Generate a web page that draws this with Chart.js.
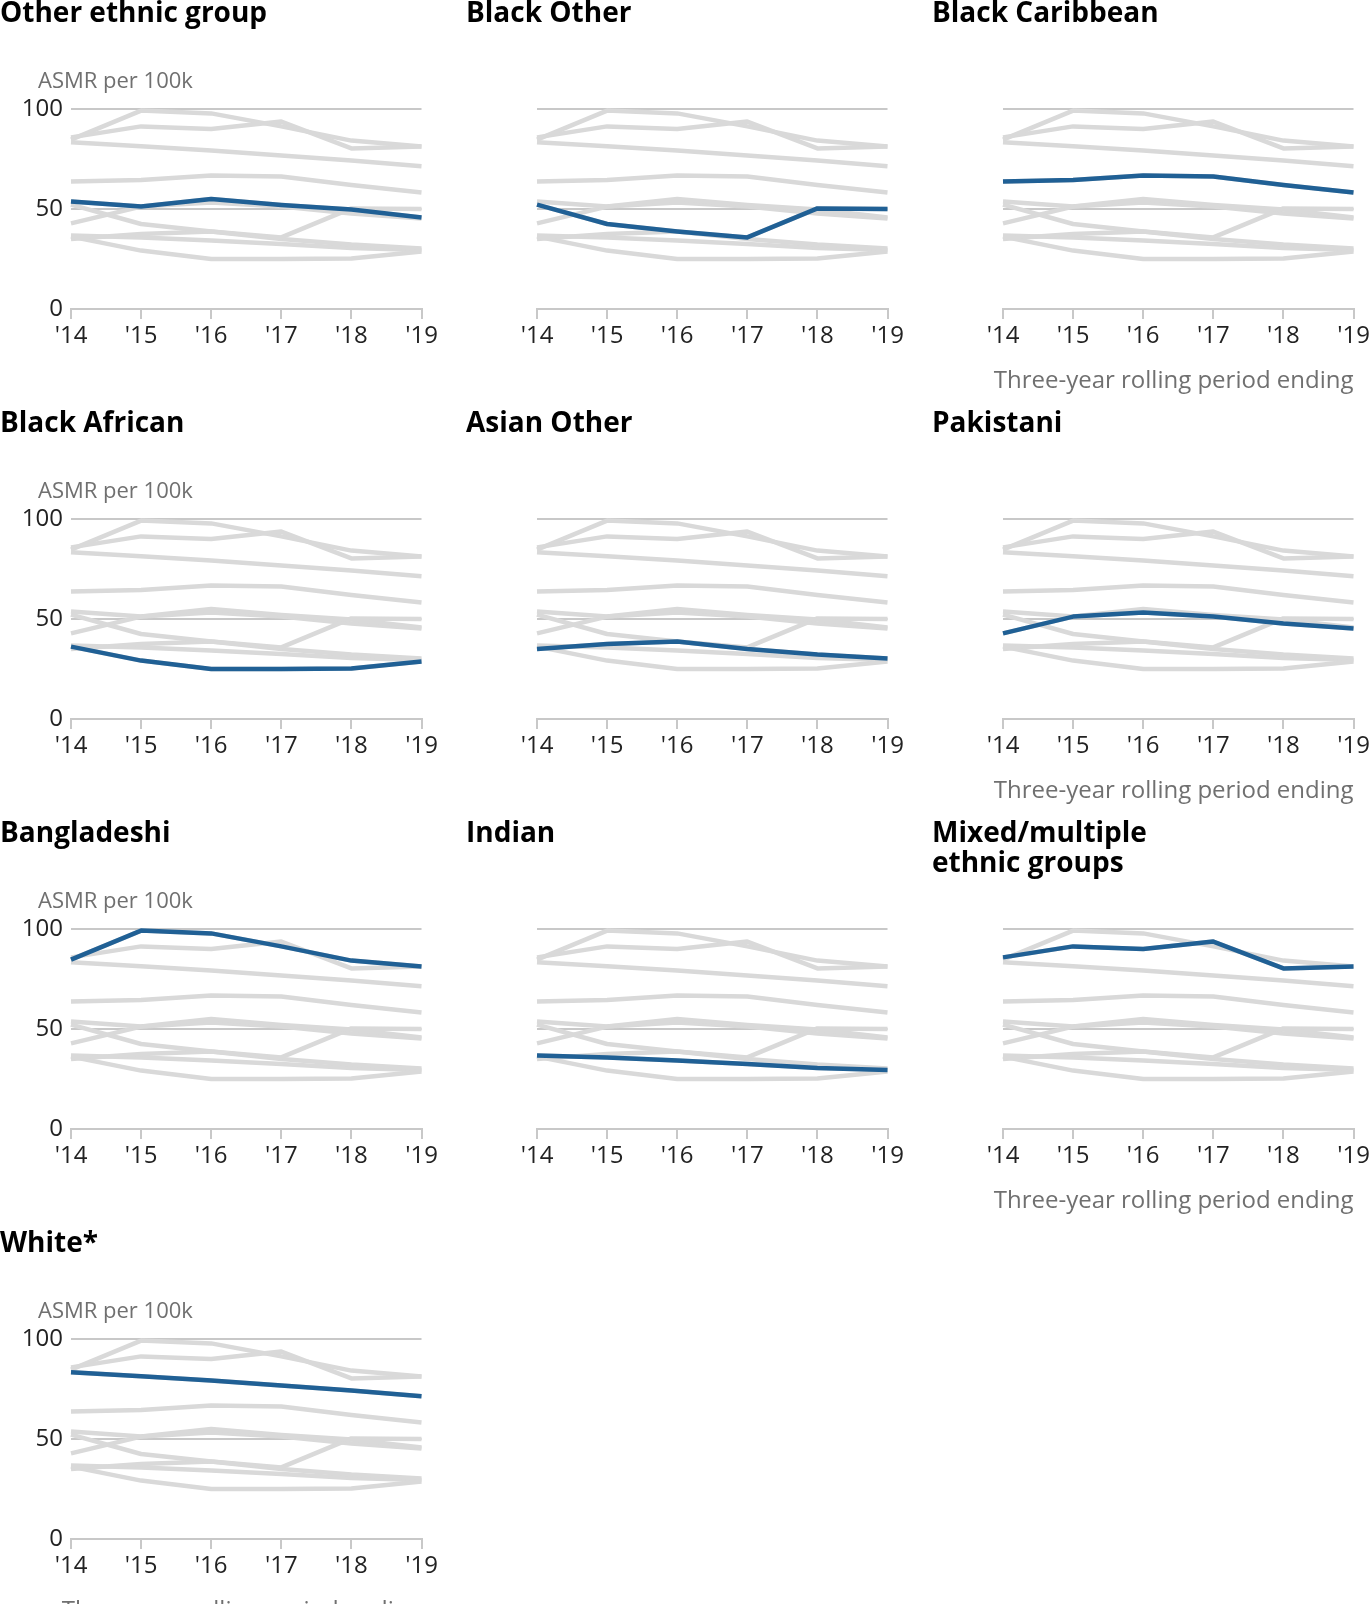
<!DOCTYPE html>
<html>
<head>
<meta charset="utf-8">
<script src="https://cdn.jsdelivr.net/npm/chart.js@4.4.0/dist/chart.umd.min.js"></script>
<style>
html,body{margin:0;padding:0;width:1370px;height:1604px;overflow:hidden;background:#fff;font-family:"Open Sans",sans-serif;}
.panel{position:absolute;width:466px;height:410px;}
.panel canvas{position:absolute;left:0;top:0;}
.title{position:absolute;left:0;top:-4.2px;width:290px;font-weight:700;font-size:28px;line-height:30px;color:#000;}
.ylab{position:absolute;left:38px;top:68.3px;font-size:22px;line-height:22px;color:#707070;white-space:nowrap;}
.xlab{position:absolute;right:44.5px;top:367.4px;font-size:24px;line-height:24px;color:#707070;white-space:nowrap;}
</style>
</head>
<body>
<script>
// ---- data ----
const years = ["'14", "'15", "'16", "'17", "'18", "'19"];
const groups = ["Other ethnic group", "Black Other", "Black Caribbean", "Black African", "Asian Other",
                "Pakistani", "Bangladeshi", "Indian", "Mixed/multiple ethnic groups", "White*"];
const otherEthnic    = [53.8, 51.2, 55.0, 52.0, 49.7, 45.8];
const blackOther     = [52.2, 42.5, 38.8, 35.8, 50.3, 50.0];
const blackCaribbean = [63.7, 64.5, 66.7, 66.3, 62.0, 58.3];
const blackAfrican   = [36.2, 29.2, 25.0, 25.0, 25.3, 28.7];
const asianOther     = [35.0, 37.5, 38.8, 35.0, 32.2, 30.3];
const pakistani      = [42.8, 51.2, 53.3, 51.2, 47.8, 45.3];
const bangladeshi    = [84.7, 99.2, 97.8, 91.3, 84.2, 81.2];
const indian         = [36.7, 35.8, 34.2, 32.5, 30.5, 29.5];
const mixed          = [85.8, 91.3, 90.0, 93.7, 80.3, 81.2];
const white          = [83.4, 81.4, 79.2, 76.7, 74.3, 71.4];
const seriesValues = [otherEthnic, blackOther, blackCaribbean, blackAfrican, asianOther,
                      pakistani, bangladeshi, indian, mixed, white];
const yTicks = [0, 50, 100];
const yAxisLabel = "ASMR per 100k";
const xAxisLabel = "Three-year rolling period ending";

// ---- styles ----
const BLUE = '#206095';
const GREY = '#d9d9d9';
const GRID = '#c8c8c8';
const TICK = '#222222';
const FONT = "'Open Sans', sans-serif";

function makePanel(idx) {
  const col = idx % 3, row = Math.floor(idx / 3);
  const panel = document.createElement('div');
  panel.className = 'panel';
  panel.style.left = (col * 466) + 'px';
  panel.style.top = (row * 410) + 'px';
  document.body.appendChild(panel);

  const canvas = document.createElement('canvas');
  canvas.width = 466; canvas.height = 410;
  canvas.style.width = '466px'; canvas.style.height = '410px';
  panel.appendChild(canvas);

  const t = document.createElement('div');
  t.className = 'title';
  t.textContent = groups[idx];
  panel.appendChild(t);

  if (col === 0) {
    const yl = document.createElement('div');
    yl.className = 'ylab';
    yl.textContent = yAxisLabel;
    panel.appendChild(yl);
  }
  if (col === 2 || idx === groups.length - 1) {
    const xl = document.createElement('div');
    xl.className = 'xlab';
    xl.textContent = xAxisLabel;
    panel.appendChild(xl);
  }

  const datasets = [{
    label: groups[idx], data: seriesValues[idx], borderColor: BLUE, borderWidth: 4.5, order: 0, clip: false
  }];
  groups.forEach((g, i) => datasets.push({
    label: g, data: seriesValues[i], borderColor: GREY, borderWidth: 4.5, order: 1, clip: false
  }));

  new Chart(canvas, {
    type: 'line',
    data: { labels: years, datasets },
    options: {
      responsive: false,
      animation: false,
      events: [],
      layout: { padding: { top: 109, right: 44.5, bottom: 0, left: 0 } },
      plugins: { legend: { display: false }, tooltip: { enabled: false } },
      elements: {
        point: { radius: 0 },
        line: { tension: 0, borderJoinStyle: 'round', borderCapStyle: 'butt', fill: false }
      },
      scales: {
        x: {
          type: 'category',
          offset: false,
          grid: { drawOnChartArea: false, drawTicks: true, tickLength: 10, color: GRID, lineWidth: 2, offset: false },
          border: { display: true, color: GRID, width: 2 },
          ticks: { font: { family: FONT, size: 24 }, color: TICK, padding: 3, maxRotation: 0, autoSkip: false },
          afterFit: s => { s.height = 101; }
        },
        y: {
          min: 0, max: 100,
          grid: { color: GRID, lineWidth: 2, drawTicks: false },
          border: { display: false },
          ticks: { display: col === 0, font: { family: FONT, size: 24 }, color: TICK, padding: 8 },
          afterBuildTicks: s => { s.ticks = yTicks.map(v => ({ value: v })); },
          afterFit: s => { s.width = 71; }
        }
      }
    }
  });
}

groups.forEach((g, i) => makePanel(i));
</script>
</body>
</html>
